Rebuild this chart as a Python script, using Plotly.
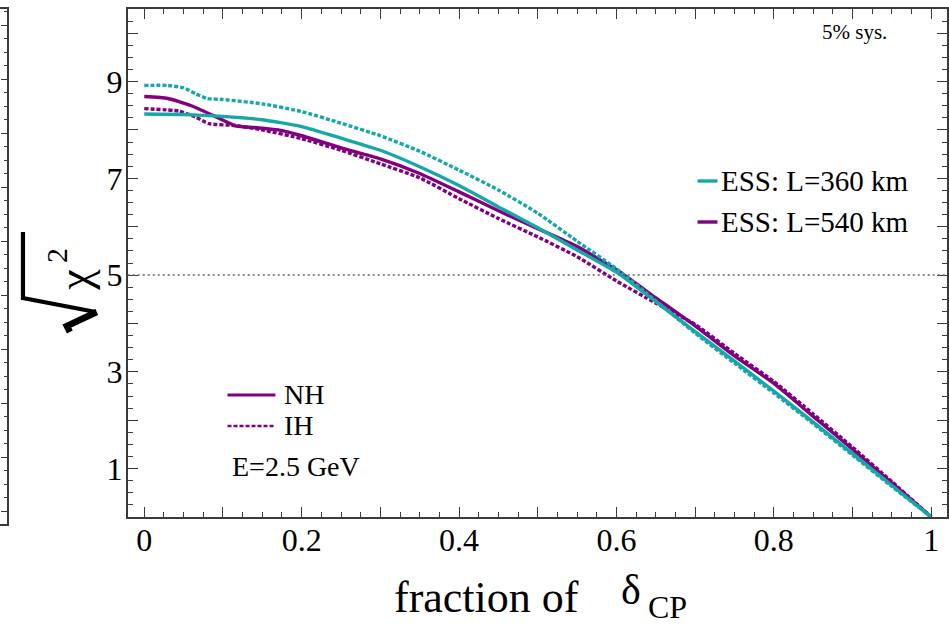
import plotly.graph_objects as go

# ---------------- data ----------------
# fraction of delta_CP  vs  sqrt(chi^2)
x_nh360 = [0, 0.05, 0.1, 0.15, 0.2, 0.25, 0.3, 0.35, 0.4, 0.45, 0.5, 0.55, 0.6, 0.65, 0.7,
           0.75, 0.8, 0.85, 0.9, 0.95, 1.0]
y_nh360 = [8.33, 8.32, 8.28, 8.21, 8.07, 7.83, 7.58, 7.24, 6.85, 6.41, 5.98, 5.52, 5.06, 4.45,
           3.83, 3.22, 2.60, 1.96, 1.31, 0.65, 0.0]

x_ih360 = [0, 0.03, 0.05, 0.065, 0.08, 0.1, 0.15, 0.2, 0.25, 0.3, 0.35, 0.4, 0.45, 0.5, 0.55,
           0.6, 0.65, 0.7, 0.75, 0.8, 0.85, 0.9, 0.95, 1.0]
y_ih360 = [8.92, 8.92, 8.87, 8.75, 8.65, 8.63, 8.54, 8.38, 8.14, 7.88, 7.56, 7.17, 6.76, 6.28,
           5.70, 5.13, 4.47, 3.80, 3.18, 2.56, 1.93, 1.28, 0.63, 0.0]

x_nh540 = [0, 0.03, 0.06, 0.09, 0.117, 0.14, 0.17, 0.2, 0.25, 0.3, 0.35, 0.4, 0.45, 0.5, 0.55,
           0.6, 0.65, 0.7, 0.75, 0.8, 0.85, 0.9, 0.95, 1.0]
y_nh540 = [8.69, 8.65, 8.50, 8.28, 8.08, 8.05, 8.00, 7.88, 7.63, 7.40, 7.10, 6.72, 6.33, 5.96,
           5.59, 5.11, 4.53, 3.95, 3.33, 2.76, 2.08, 1.40, 0.70, 0.0]

x_ih540 = [0, 0.044, 0.065, 0.082, 0.117, 0.15, 0.2, 0.25, 0.3, 0.35, 0.4, 0.45, 0.5, 0.55,
           0.6, 0.65, 0.7, 0.75, 0.8, 0.85, 0.9, 0.95, 1.0]
y_ih540 = [8.44, 8.39, 8.27, 8.13, 8.09, 8.00, 7.82, 7.58, 7.30, 7.01, 6.58, 6.17, 5.79, 5.38,
           4.88, 4.42, 3.98, 3.38, 2.80, 2.13, 1.44, 0.73, 0.0]

x_tickvals = [0, 0.1, 0.2, 0.3, 0.4, 0.5, 0.6, 0.7, 0.8, 0.9, 1.0]
x_ticktext = ["0", "", "0.2", "", "0.4", "", "0.6", "", "0.8", "", "1"]
y_tickvals = [0, 1, 2, 3, 4, 5, 6, 7, 8, 9, 10]
y_ticktext = ["", "1", "", "3", "", "5", "", "7", "", "9", ""]
threshold = 5

series_labels = ["ESS: L=360 km", "ESS: L=540 km"]
hier_labels = ["NH", "IH"]
energy_label = "E=2.5 GeV"
sys_label = "5% sys."

# ---------------- styling ----------------
W, H = 949, 624
TEAL = "rgb(22,168,168)"
PURPLE = "rgb(128,0,128)"
AX = "#3a3a3a"
FONT = "Liberation Serif"
DOT = "4px,2px"


def px(x):
    return x / W


def py(y):
    return 1 - y / H


fig = go.Figure()

curves = [
    (x_nh540, y_nh540, PURPLE, "solid"),
    (x_ih540, y_ih540, PURPLE, DOT),
    (x_nh360, y_nh360, TEAL, "solid"),
    (x_ih360, y_ih360, TEAL, DOT),
]
for xs, ys, col, dash in curves:
    fig.add_trace(go.Scatter(x=xs, y=ys, mode="lines",
                             line=dict(color=col, width=3.4, dash=dash, shape="spline", smoothing=0.5),
                             hoverinfo="skip", showlegend=False, xaxis="x", yaxis="y"))

# invisible trace for the neighbouring panel fragment
fig.add_trace(go.Scatter(x=[], y=[], xaxis="x2", yaxis="y2", showlegend=False))

common_axis = dict(showline=True, linecolor=AX, linewidth=1.8, ticks="inside", tickcolor=AX,
                   tickwidth=1.3, showgrid=False, zeroline=False)

fig.update_layout(
    width=W, height=H, margin=dict(l=0, r=0, t=0, b=0, pad=0),
    paper_bgcolor="white", plot_bgcolor="white", showlegend=False,
    font=dict(family=FONT, color="black"),
    xaxis=dict(domain=[128 / W, 1], range=[-0.021, 1.02], anchor="y",
               tickmode="array", tickvals=x_tickvals, ticktext=x_ticktext,
               ticklen=10, mirror="ticks", tickfont=dict(size=32, family=FONT),
               ticklabelstandoff=-6,
               minor=dict(tickmode="linear", tick0=0, dtick=0.025, ticks="inside",
                          ticklen=5, tickwidth=1, tickcolor=AX),
               **common_axis),
    yaxis=dict(domain=[1 - 517 / H, 1 - 9 / H], range=[0, 10.5], anchor="x",
               tickmode="array", tickvals=y_tickvals, ticktext=y_ticktext,
               ticklen=10, mirror="ticks", tickfont=dict(size=32, family=FONT),
               ticklabelstandoff=-3,
               minor=dict(tickmode="linear", tick0=0, dtick=0.25, ticks="inside",
                          ticklen=5, tickwidth=1, tickcolor=AX),
               **common_axis),
    xaxis2=dict(domain=[0, 7.5 / W], range=[0, 1], anchor="y2", showline=True, mirror=True,
                linecolor=AX, linewidth=1.8, ticks="", showticklabels=False,
                showgrid=False, zeroline=False),
    yaxis2=dict(domain=[1 - 524 / H, 1 - 9 / H], range=[-0.24, 9.297], anchor="x2", side="right",
                showline=True, linecolor=AX, linewidth=1.8, ticks="inside", ticklen=7,
                tickwidth=1.3, tickcolor=AX, showticklabels=False, showgrid=False,
                zeroline=False, tickmode="linear", tick0=0, dtick=1,
                minor=dict(tickmode="linear", tick0=0, dtick=0.25, ticks="inside",
                           ticklen=4, tickwidth=1, tickcolor=AX)),
)

# threshold line
fig.add_shape(type="line", xref="x domain", yref="y", x0=0, x1=1, y0=threshold, y1=threshold,
              line=dict(color="#666", width=1.5, dash="2px,3px"))

# legend samples (paper coords)
fig.add_shape(type="line", xref="paper", yref="paper", x0=px(699), x1=px(719), y0=py(181), y1=py(181),
              line=dict(color=TEAL, width=3.4))
fig.add_shape(type="line", xref="paper", yref="paper", x0=px(699), x1=px(719), y0=py(222), y1=py(222),
              line=dict(color=PURPLE, width=3.4))
fig.add_shape(type="line", xref="paper", yref="paper", x0=px(228), x1=px(276), y0=py(395), y1=py(395),
              line=dict(color=PURPLE, width=2.8))
fig.add_shape(type="line", xref="paper", yref="paper", x0=px(228), x1=px(276), y0=py(426), y1=py(426),
              line=dict(color=PURPLE, width=2.6, dash=DOT))

# radical sign of the y title
rad_main = "M {},{} L {},{} L {},{}".format(px(23), py(232), px(23), py(298), px(96), py(312))
fig.add_shape(type="path", xref="paper", yref="paper", path=rad_main,
              line=dict(color="black", width=4.2))
rad_hook = "M {},{} L {},{} L {},{}".format(px(97), py(312), px(67), py(326), px(70), py(332))
fig.add_shape(type="path", xref="paper", yref="paper", path=rad_hook,
              line=dict(color="black", width=6.5))


def ann(text, x, y, size, xanchor="left", yanchor="middle", angle=0):
    fig.add_annotation(text=text, x=px(x), y=py(y), xref="paper", yref="paper", showarrow=False,
                       xanchor=xanchor, yanchor=yanchor, textangle=angle,
                       font=dict(size=size, family=FONT, color="black"))


ann("χ", 74, 280, 46, xanchor="center", angle=-90)
ann("2", 56, 255, 30, xanchor="center", angle=-90)

ann(sys_label, 856, 32, 21, xanchor="center")
ann(series_labels[0], 721, 181, 29)
ann(series_labels[1], 721, 222, 29)
ann(hier_labels[0], 283, 394, 28)
ann(hier_labels[1], 283, 425, 28)
ann(energy_label, 230, 466, 28)

# x title
ann("fraction of", 393, 597, 44)
ann("δ", 620, 590, 42)
ann("CP", 647, 607, 32)

# the browser's default 8px body margin would shift the figure; remove it
fig.write_html("out.html", config={"displayModeBar": False},
               post_script="document.body.style.margin='0px';")
